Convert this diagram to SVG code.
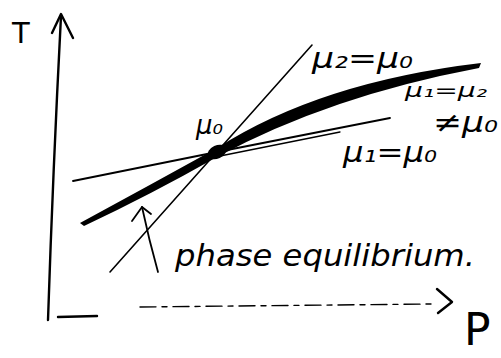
<svg xmlns="http://www.w3.org/2000/svg" width="501" height="358" viewBox="0 0 501 358">
<style>
.ink{fill:none;stroke:#000;stroke-linecap:round;stroke-linejoin:round}
.thin{stroke-width:1.6}
.axis{stroke-width:2.4}
.lbl{font-family:"DejaVu Sans","Liberation Sans",sans-serif;font-style:italic;fill:#000}
.ax{font-family:"DejaVu Sans","Liberation Sans",sans-serif;font-style:normal;fill:#000}
</style>
<rect width="501" height="358" fill="#fff"/>
<g id="axes">
  <path class="ink axis" d="M48,320 Q53,170 61,16"/>
  <path class="ink axis" d="M52,33 L61,14 L73,38"/>
  <path class="ink axis" d="M58,317 L97,316"/>
  <path class="ink" stroke="#666" stroke-width="1.4" stroke-dasharray="16 6 5 6" d="M140,307 L433,304"/>
  <path class="ink axis" d="M437,289 L452,302 L438,313"/>
  <text class="ax" x="12" y="43" font-size="29">T</text>
  <text class="ax" x="464" y="345" font-size="44">P</text>
</g>
<g id="curves">
  <path class="ink thin" d="M110,272 L312,45"/>
  <path class="ink" stroke-width="1.8" d="M73,181 L217,152 L390,118"/>
  <path class="ink" stroke-width="1.3" d="M220,156 L340,132"/>
  <path d="M80,223 Q150,185 217,148 Q320,82 481,63 L479,68 Q330,96 217,157 Q150,195 84,226 Z" fill="#000"/>
  <path class="ink" stroke="#fff" stroke-width="1" d="M105,211 L185,170"/>
  <ellipse cx="217" cy="152" rx="10" ry="6.5" transform="rotate(-25 217 152)" fill="#000"/>
</g>
<g id="labels">
  <text class="lbl" x="196" y="134" font-size="26">μ₀</text>
  <text class="lbl" x="312" y="68" font-size="28" textLength="101" lengthAdjust="spacingAndGlyphs">μ₂=μ₀</text>
  <text class="lbl" x="405" y="97" font-size="20" textLength="82" lengthAdjust="spacingAndGlyphs">μ₁=μ₂</text>
  <text class="lbl" x="433" y="132" font-size="28" textLength="65" lengthAdjust="spacingAndGlyphs">≠μ₀</text>
  <text class="lbl" x="343" y="162" font-size="28" textLength="94" lengthAdjust="spacingAndGlyphs">μ₁=μ₀</text>
</g>
<g id="annotation">
  <path class="ink" stroke-width="1.8" d="M158,272 Q149,240 142,207"/>
  <path class="ink" stroke-width="1.8" d="M132,221 L142,207 L151,214"/>
  <text class="lbl" x="175" y="266" font-size="31" textLength="300" lengthAdjust="spacingAndGlyphs">phase equilibrium.</text>
</g>
</svg>
